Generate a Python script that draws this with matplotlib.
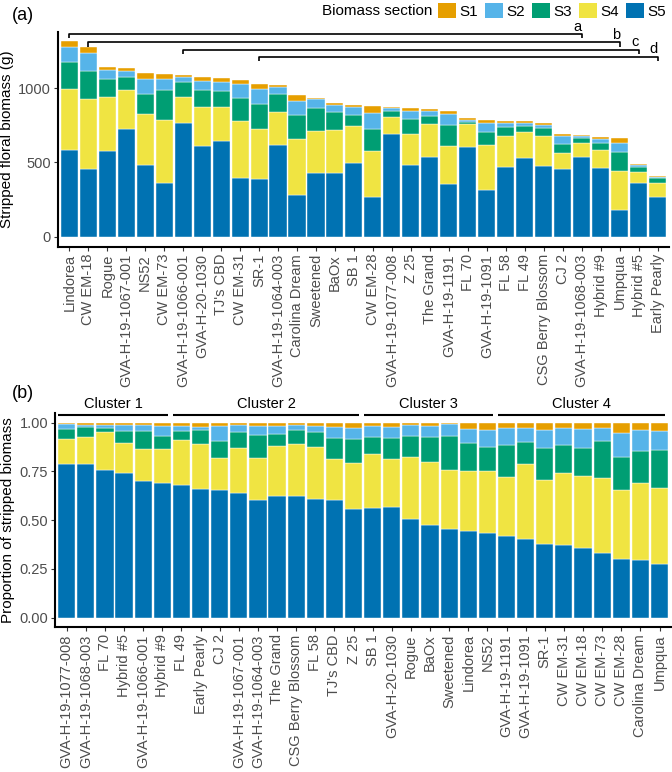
import numpy as np
import matplotlib
matplotlib.use('Agg')
import matplotlib.pyplot as plt
from matplotlib.patches import Patch

plt.rcParams['font.family'] = ['Liberation Sans', 'DejaVu Sans']

# panel (a): stripped floral biomass (g) per section, sorted by total
names = ['Lindorea', 'CW EM-18', 'Rogue', 'GVA-H-19-1067-001', 'NS52', 'CW EM-73',
         'GVA-H-19-1066-001', 'GVA-H-20-1030', "TJ's CBD", 'CW EM-31', 'SR-1',
         'GVA-H-19-1064-003', 'Carolina Dream', 'Sweetened', 'BaOx', 'SB 1', 'CW EM-28',
         'GVA-H-19-1077-008', 'Z 25', 'The Grand', 'GVA-H-19-1191', 'FL 70',
         'GVA-H-19-1091', 'FL 58', 'FL 49', 'CSG Berry Blossom', 'CJ 2',
         'GVA-H-19-1068-003', 'Hybrid #9', 'Umpqua', 'Hybrid #5', 'Early Pearly']
s5 = [584, 458, 578, 724, 481, 362, 764, 611, 645, 396, 391, 618, 281, 427, 431, 499,
      265, 690, 485, 539, 355, 604, 317, 472, 530, 476, 454, 537, 465, 182, 362, 270]
s4 = [409, 470, 364, 263, 348, 422, 178, 263, 227, 386, 335, 220, 380, 283, 290, 245,
      313, 114, 205, 221, 256, 156, 299, 209, 178, 205, 112, 97, 117, 258, 76, 94]
s3 = [185, 189, 121, 89, 135, 205, 101, 115, 112, 155, 171, 122, 157, 160, 117, 78,
      148, 43, 106, 53, 140, 15, 90, 58, 38, 54, 61, 33, 47, 131, 29, 29]
s2 = [98, 121, 63, 41, 99, 76, 33, 63, 61, 92, 96, 47, 99, 58, 50, 50,
      110, 23, 49, 34, 74, 14, 58, 27, 18, 18, 52, 9, 32, 63, 14, 7]
s1 = [41, 43, 16, 16, 40, 29, 12, 24, 25, 27, 36, 15, 38, 7, 15, 16,
      45, 6, 25, 14, 22, 9, 20, 12, 14, 11, 13, 7, 13, 29, 7, 9]

# significance brackets: (from, to, label, height)
brackets = [('Lindorea', 'GVA-H-19-1068-003', 'a', 1362),
            ('CW EM-18', 'Umpqua', 'b', 1308),
            ('GVA-H-19-1066-001', 'Hybrid #5', 'c', 1260),
            ('SR-1', 'Early Pearly', 'd', 1210)]

# panel (b): order grouped by cluster
order_b = ['GVA-H-19-1077-008', 'GVA-H-19-1068-003', 'FL 70', 'Hybrid #5',
           'GVA-H-19-1066-001', 'Hybrid #9',
           'FL 49', 'Early Pearly', 'CJ 2', 'GVA-H-19-1067-001', 'GVA-H-19-1064-003',
           'The Grand', 'CSG Berry Blossom', 'FL 58', "TJ's CBD", 'Z 25',
           'SB 1', 'GVA-H-20-1030', 'Rogue', 'BaOx', 'Sweetened', 'Lindorea', 'NS52',
           'GVA-H-19-1191', 'GVA-H-19-1091', 'SR-1', 'CW EM-31', 'CW EM-18', 'CW EM-73',
           'CW EM-28', 'Carolina Dream', 'Umpqua']
clusters = ['Cluster 1', 'Cluster 2', 'Cluster 3', 'Cluster 4']
cluster_sizes = [6, 10, 7, 9]

sections = ['S1', 'S2', 'S3', 'S4', 'S5']
colors = {'S1': '#E69F00', 'S2': '#56B4E9', 'S3': '#009E73', 'S4': '#F0E442', 'S5': '#0072B2'}

data = {'S5': np.array(s5, float), 'S4': np.array(s4, float), 'S3': np.array(s3, float),
        'S2': np.array(s2, float), 'S1': np.array(s1, float)}
total = sum(data.values())

tick_col = '#4D4D4D'
fs_tick = 10.5
fs_title = 11


def style(ax):
    for s in ['top', 'right']:
        ax.spines[s].set_visible(False)
    for s in ['left', 'bottom']:
        ax.spines[s].set_linewidth(1.5)
        ax.spines[s].set_color('black')
    ax.tick_params(length=3, width=0.8, color='#333333', labelcolor=tick_col,
                   labelsize=fs_tick, pad=2)


fig = plt.figure(figsize=(6.72, 7.72), dpi=100)
ax1 = fig.add_axes([0.0862, 0.6801, 0.9092, 0.2789])
ax2 = fig.add_axes([0.0821, 0.1873, 0.9164, 0.2778])

# ---- panel (a)
x = np.arange(1, len(names) + 1)
bottom = np.zeros(len(names))
for sec in ['S5', 'S4', 'S3', 'S2', 'S1']:
    ax1.bar(x, data[sec], bottom=bottom, width=0.9, color=colors[sec],
            edgecolor='white', linewidth=0.3)
    bottom += data[sec]

for a, b, lab, h in brackets:
    xa = names.index(a) + 1
    xb = names.index(b) + 1
    ax1.plot([xa, xa, xb, xb], [h - 27, h, h, h - 27], color='black', lw=1.2,
             clip_on=False, solid_capstyle='butt')
    ax1.text(xb - 0.2, h + 4, lab, ha='center', va='bottom', fontsize=fs_tick)

ax1.set_xlim(0.4, 32.6)
ax1.set_ylim(-69, 1381)
ax1.set_yticks([0, 500, 1000])
ax1.set_xticks(x)
ax1.set_xticklabels(names, rotation=90)
ax1.set_ylabel('Stripped floral biomass (g)', fontsize=fs_title, labelpad=3)
style(ax1)

# ---- panel (b)
idx = [names.index(n) for n in order_b]
bottom = np.zeros(len(order_b))
for sec in ['S5', 'S4', 'S3', 'S2', 'S1']:
    prop = data[sec][idx] / total[idx]
    ax2.bar(x, prop, bottom=bottom, width=0.9, color=colors[sec],
            edgecolor='white', linewidth=0.3)
    bottom += prop

start = 1
for cl, n in zip(clusters, cluster_sizes):
    end = start + n - 1
    ax2.plot([start - 0.45, end + 0.3], [1.037, 1.037], color='black', lw=1.5,
             clip_on=False, solid_capstyle='butt')
    ax2.text((start - 0.45 + end + 0.3) / 2, 1.06, cl, ha='center', va='bottom',
             fontsize=fs_tick)
    start = end + 1

ax2.set_xlim(0.4, 32.6)
ax2.set_ylim(-0.05, 1.05)
ax2.set_yticks([0, 0.25, 0.5, 0.75, 1.0])
ax2.set_yticklabels(['0.00', '0.25', '0.50', '0.75', '1.00'])
ax2.set_xticks(x)
ax2.set_xticklabels(order_b, rotation=90)
ax2.set_ylabel('Proportion of stripped biomass', fontsize=fs_title, labelpad=3)
style(ax2)

# panel tags
fig.text(12 / 672, 1 - 16 / 772, '(a)', fontsize=13, va='center', ha='left')
fig.text(12 / 672, 1 - 394 / 772, '(b)', fontsize=13, va='center', ha='left')

# legend
fig.text(322 / 672, 1 - 11 / 772, 'Biomass section', fontsize=fs_title, va='center', ha='left')
handles = [Patch(facecolor=colors[s], edgecolor='none') for s in sections]
fig.legend(handles, sections, ncol=5, loc='center left',
           bbox_to_anchor=(438 / 672, 1 - 11 / 772), frameon=False, fontsize=fs_title,
           handlelength=1.2, handleheight=1.1, handletextpad=0.2, columnspacing=0.45,
           borderpad=0, borderaxespad=0)

fig.savefig('out.png', dpi=100)
